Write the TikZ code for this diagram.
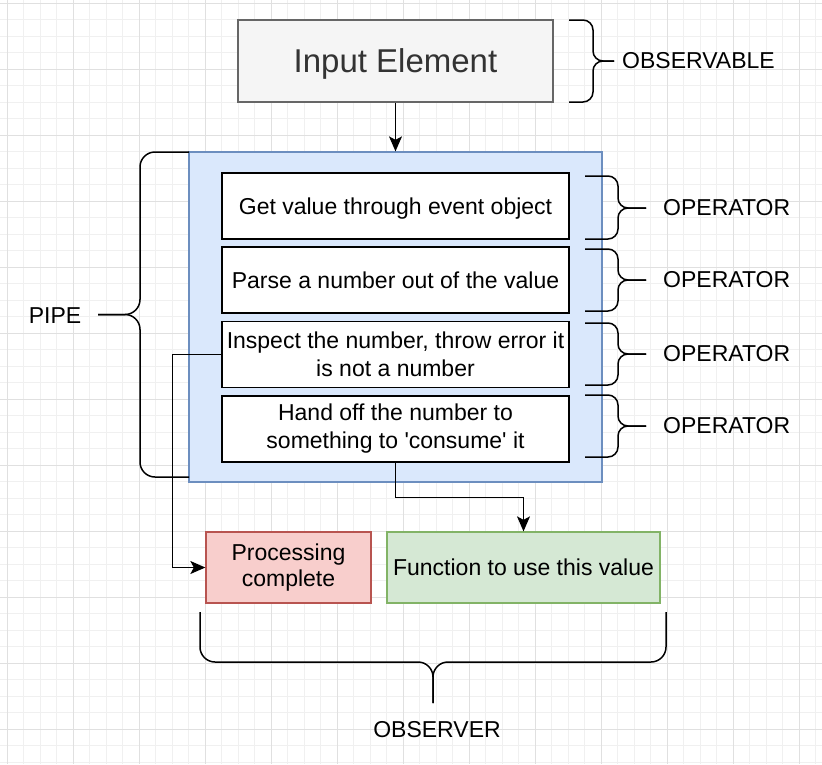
\documentclass[tikz,border=0pt]{standalone}
\usepackage{fontspec}
\setmainfont{Liberation Sans}
\usepackage{xcolor}
\usetikzlibrary{arrows.meta}
\definecolor{gridminor}{HTML}{F0F0F0}
\definecolor{gridmajor}{HTML}{E0E0E0}
\definecolor{inputfill}{HTML}{F5F5F5}
\definecolor{inputline}{HTML}{666666}
\definecolor{inputtext}{HTML}{333333}
\definecolor{pipefill}{HTML}{DAE8FC}
\definecolor{pipeline}{HTML}{6C8EBF}
\definecolor{redfill}{HTML}{F8CECC}
\definecolor{redline}{HTML}{B85450}
\definecolor{greenfill}{HTML}{D5E8D4}
\definecolor{greenline}{HTML}{82B366}
\tikzstyle{oneline} = [text height=20.7pt, text depth=4.1pt]
\tikzstyle{input} = [rectangle, minimum width=315, minimum height=82, inner sep=0, text centered, draw=inputline, fill=inputfill, line width=1.3pt, text=inputtext, font=\fontsize{33}{38}\selectfont, text height=29.7pt, text depth=5.9pt]
\tikzstyle{pipebox} = [rectangle, minimum width=413, minimum height=330, inner sep=0, draw=pipeline, fill=pipefill, line width=1.3pt]
\tikzstyle{operator} = [rectangle, minimum width=347, minimum height=66, inner sep=0, text centered, align=center, draw=black, fill=white, line width=1.3pt]
\tikzstyle{done} = [rectangle, minimum width=165, minimum height=71, inner sep=0, align=center, draw=redline, fill=redfill, line width=1.3pt]
\tikzstyle{consume} = [rectangle, minimum width=273, minimum height=71, inner sep=0, align=center, draw=greenline, fill=greenfill, line width=1.3pt]
\tikzstyle{label} = [inner sep=0, font=\fontsize{23}{27}\selectfont]
\tikzstyle{brace} = [line width=1.5pt, rounded corners=10pt]
\tikzstyle{arrow} = [line width=1.3pt, -{Stealth[length=15pt, width=13pt, inset=3.5pt]}]

\begin{document}
\begin{tikzpicture}[x=1pt, y=-1pt, font=\fontsize{23}{28}\selectfont]
    \useasboundingbox [fill=white] (0,0) rectangle (822,764);
    % background grid
    \foreach \gx in {7,23.5,...,822} \draw [gridminor, line width=1pt] (\gx,0) -- (\gx,764);
    \foreach \gy in {3,19.5,...,764} \draw [gridminor, line width=1pt] (0,\gy) -- (822,\gy);
    \foreach \gx in {7,73,...,822} \draw [gridmajor, line width=1pt] (\gx,0) -- (\gx,764);
    \foreach \gy in {3,69,...,764} \draw [gridmajor, line width=1pt] (0,\gy) -- (822,\gy);

    \node (input) [input] at (395.5,61) {Input Element};
    \node (pipe) [pipebox] at (395.5,317) {};
    \node (get_value) [operator, oneline] at (395.5,206) {Get value through event object};
    \node (parse) [operator, oneline] at (395.5,280) {Parse a number out of the value};
    \node (inspect) [operator] at (395.5,354.5) {Inspect the number, throw error it \\ is not a number};
    \node (hand_off) [operator] at (395.5,429) {Hand off the number to \\ something to \textquotesingle consume\textquotesingle{} it};
    \node (done) [done, font=\fontsize{23}{26}\selectfont] at (288.5,567.5) {Processing \\ complete};
    \node (func) [consume, oneline] at (523.5,567.5) {Function to use this value};

    \node (observable) [label, anchor=west] at (622,61) {OBSERVABLE};
    \node (op_a) [label, anchor=west] at (663,208) {OPERATOR};
    \node (op_b) [label, anchor=west] at (663,280) {OPERATOR};
    \node (op_c) [label, anchor=west] at (663,354) {OPERATOR};
    \node (op_d) [label, anchor=west] at (663,426) {OPERATOR};
    \node (pipe_lbl) [label] at (55,316) {PIPE};
    \node (observer) [label] at (437,730) {OBSERVER};

    % braces
    \draw [brace] (569,20) -| (593,61) -- (614,61);
    \draw [brace] (569,102) -| (593,61) -- (614,61);
    \foreach \top/\mid/\bot in {176/208/239, 249/280/311, 323/354/385, 395/426/457} {
        \draw [brace] (585,\top) -| (618,\mid) -- (646,\mid);
        \draw [brace] (585,\bot) -| (618,\mid) -- (646,\mid);
    }
    \draw [brace, rounded corners=15pt] (189,152) -| (140,314.5) -- (98,314.5);
    \draw [brace, rounded corners=15pt] (189,477) -| (140,314.5) -- (98,314.5);
    \draw [brace, rounded corners=15pt] (200,612) |- (433,662) -- (433,703);
    \draw [brace, rounded corners=15pt] (666,612) |- (433,662) -- (433,703);

    \draw [arrow] (input) -- (pipe);
    \draw [arrow] (inspect.west) -- ++(-49,0) |- (done.west);
    \draw [arrow] (hand_off.south) -- ++(0,35) -| (func.north);
\end{tikzpicture}
\end{document}
